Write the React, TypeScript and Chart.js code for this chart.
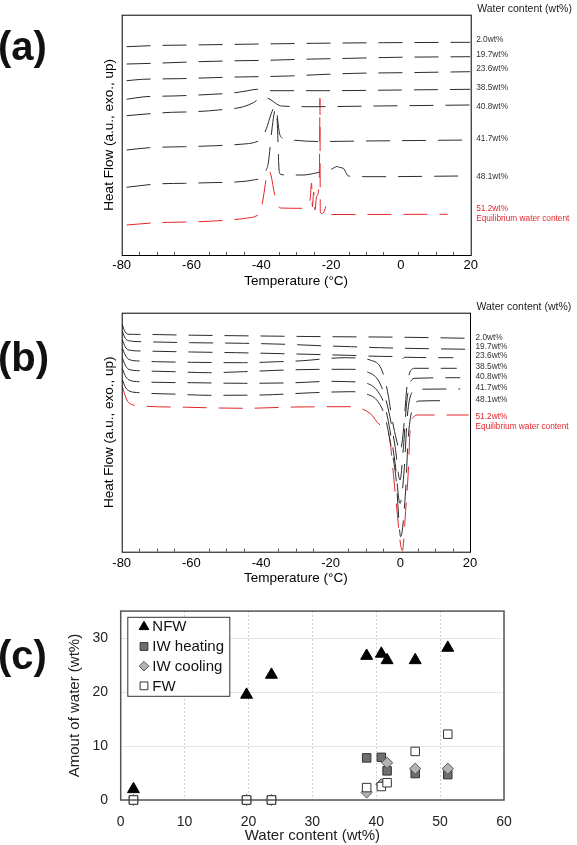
import React, { useEffect, useRef } from 'react';
import { Chart, registerables } from 'chart.js';
Chart.register(...registerables);

const FONT = '"Liberation Sans", Arial, Helvetica, sans-serif';
Chart.defaults.font.family = FONT;
const INK = '#2b2b2b';
const RED = '#e3262b';

// ---------- shared labels ----------
const CONTENT_LABELS = ['2.0wt%', '19.7wt%', '23.6wt%', '38.5wt%', '40.8wt%', '41.7wt%', '48.1wt%', '51.2wt%'];
const HEADER = 'Water content (wt%)';
const EQUIL = 'Equilibrium water content';
const X_TICKS_DSC = [-80, -60, -40, -20, 0, 20];

// ---------- panel (a): cooling DSC, [temperature °C, heat flow a.u.] ----------
const A_2_0 = [[-78.6, 208.3], [-70, 209.5], [-60, 210], [-40, 211], [-25, 211.7], [-5, 212.3], [19.8, 212.7]];
const A_19_7 = [[-78.6, 191], [-70.9, 191.7], [-58, 193.3], [-46.1, 194.3], [-38.5, 194.7], [-28.4, 195.7], [-14.6, 196.7], [-1.2, 197.7], [19.8, 198.3]];
const A_23_6 = [[-78.6, 174.3], [-74, 175.7], [-63.8, 176.3], [-50.4, 177.7], [-41.8, 178.3], [-32.2, 179], [-23.9, 180.3], [-12.9, 181.7], [0.5, 182.3], [19.8, 183.3]];
const A_38_5 = [[-78.6, 155.7], [-73.3, 158.3], [-65.4, 159], [-58, 160], [-47.5, 162.3], [-43.5, 164.5], [-41.3, 165.7], [-39.5, 165], [-37.5, 164.3], [-22.2, 164.3], [-0.2, 165], [19.8, 165.7]];
const A_40_8 = [[-78.6, 139.3], [-73, 141], [-65.7, 142.7], [-59.2, 143.3], [-52.3, 145], [-45.1, 148.3], [-42.3, 152.3], [-39.7, 157.7], [-37.5, 155.7], [-35.6, 151], [-34.2, 149], [-26, 148.3], [-6.9, 149], [19.8, 150]];
const A_41_7 = [[-78.6, 105], [-72, 107.3], [-62, 108.3], [-53, 109.3], [-45, 111], [-42.3, 112.3], [-39.9, 116.7], [-38.5, 126.7], [-37.3, 140], [-36.5, 146.7], [-36.1, 148], [-35.6, 145.5], [-35.3, 135], [-34.8, 122], [-34, 117], [-32, 115.3], [-23.6, 113.5], [-10, 114], [19.8, 115]];
const A_48_1 = [[-78.6, 67.7], [-70, 71], [-62, 71.7], [-55, 72.3], [-46.1, 73.3], [-42.3, 75], [-39.8, 78], [-38.6, 85], [-38, 92], [-37, 124], [-36.4, 140], [-35.9, 146], [-35.5, 138], [-35.2, 112], [-35, 90], [-34.6, 81], [-33, 80], [-28, 80], [-24, 82.3], [-20, 85.7], [-18.2, 88.5], [-17.5, 87.5], [-16.5, 86.7], [-15, 79], [-8, 78.3], [17.2, 79]];
const A_51_2 = [[-78.6, 30], [-70, 32.3], [-58, 33.3], [-49, 35], [-44, 37], [-41.5, 39], [-40.2, 44], [-39.4, 58], [-38.5, 78], [-37.8, 84.3], [-37.1, 78], [-36.6, 68], [-35.6, 53], [-34.5, 47], [-28, 46.7], [-26.6, 50], [-26, 56], [-25.6, 72], [-25.35, 48], [-25, 63], [-24.6, 45], [-24.2, 58], [-23.5, 68], [-23.3, 100], [-23.2, 156.7], [-23.1, 43], [-22.6, 41.5], [-21.9, 44], [-21.5, 48.5], [-21.1, 40.5], [13.4, 40.7]];
const A_CURVES = [A_2_0, A_19_7, A_23_6, A_38_5, A_40_8, A_41_7, A_48_1, A_51_2];
const A_LABEL_Y = [215.7, 200, 186, 167, 148.3, 116, 78.3, 46.7];

// ---------- panel (b): heating DSC ----------
const B_2_0 = [[-79.8, 227], [-79.2, 221], [-78.2, 217.5], [-75, 217.3], [-60, 216.5], [-40, 215.7], [-20, 215], [0, 214.5], [19.8, 213.4]];
const B_19_7 = [[-79.8, 220], [-79, 213.5], [-78, 211], [-74, 210], [-60, 209], [-45, 208.4], [-33, 207.4], [-23, 206], [-14, 205], [-6, 204], [0, 203.5], [8, 203], [19.8, 202.4]];
const B_23_6 = [[-79.8, 211.7], [-79, 205], [-78, 201.7], [-74, 200.7], [-60, 199.7], [-47, 199], [-30, 197.7], [-15, 196.4], [-5, 195.3], [-0.5, 195], [0.4, 192], [1.2, 194.5], [5, 194.2], [15.2, 194]];
const B_38_5 = [[-79.8, 203.4], [-79, 196.7], [-78, 192.4], [-75, 190.7], [-70, 190], [-60, 189.4], [-45, 189], [-35, 190], [-28, 191], [-20, 193.4], [-15.4, 194], [-11.6, 193.4], [-8.7, 191.7], [-5.8, 185], [-4.4, 171.7], [-3.4, 155], [-2.5, 135], [-1.1, 111.7], [-0.1, 100], [0.9, 121.7], [1.8, 161.7], [2.8, 180], [4.2, 183.4], [16.2, 183.4]];
const B_40_8 = [[-79.8, 193.4], [-79, 186.7], [-78, 182.4], [-75, 181], [-65, 180], [-55, 179], [-45, 180], [-33, 181.7], [-20, 182.4], [-14.5, 182.4], [-9.7, 180], [-6.4, 171.7], [-4.4, 155], [-3, 135], [-1.5, 105], [-0.1, 71.7], [0.9, 105], [1.8, 148.4], [2.8, 168.4], [4.2, 173.4], [17.2, 174]];
const B_41_7 = [[-79.8, 183], [-79, 176], [-78, 172], [-75, 170], [-60, 169], [-45, 168.4], [-30, 169], [-20, 170.4], [-14.5, 170], [-9.7, 168.4], [-6.4, 160], [-4.4, 145], [-3, 121.7], [-1.5, 88.4], [-0.1, 48.4], [1.1, 81.7], [2, 135], [3.2, 158.4], [4.7, 162.4], [17.2, 162.7]];
const B_48_1 = [[-79.8, 172], [-79, 165], [-78, 161], [-75, 159], [-65, 157.6], [-55, 156.4], [-40, 156.7], [-25, 159], [-14.5, 160], [-9.7, 157.7], [-6.4, 150], [-4.4, 135], [-3, 111.7], [-1.2, 71.7], [0.1, 15], [1.4, 55], [2.3, 115], [3.7, 145], [5.6, 150.7], [11.9, 151]];
const B_51_2 = [[-79.8, 165], [-79, 156], [-78, 149], [-75, 146], [-62, 144.5], [-45, 143.4], [-30, 144.7], [-15, 145], [-8.7, 138.4], [-5.8, 126.7], [-3.9, 123.4], [-3, 111.7], [-1.5, 60], [0.6, 1], [1.5, 40], [2.3, 81.7], [2.8, 121.7], [3.7, 134.4], [5.2, 136.7], [19.6, 136.7]];
const B_CURVES = [B_2_0, B_19_7, B_23_6, B_38_5, B_40_8, B_41_7, B_48_1, B_51_2];
const B_LABEL_Y = [214.4, 205, 196, 185, 175, 164, 152.4, 135];

// ---------- panel (c): amount of water ----------
const C_WATER = [2.0, 19.7, 23.6, 38.5, 40.8, 41.7, 46.1, 51.2];
const C_NFW = [2.0, 19.5, 23.2, 26.7, 27.1, 25.9, 25.9, 28.2];
const C_IW_HEATING = [0, 0, 0, 7.8, 7.9, 5.4, 4.9, 4.7];
const C_IW_COOLING = [0, 0, 0, 1.4, 2.9, 6.9, 5.8, 5.8];
const C_FW = [0, 0, 0, 2.3, 2.5, 3.2, 9.0, 12.2];
const C_SERIES_NAMES = ['NFW', 'IW heating', 'IW cooling', 'FW'];
const C_X_TICKS = [0, 10, 20, 30, 40, 50, 60];
const C_Y_TICKS = [0, 10, 20, 30];

function dscPlugin(labelY: number[]) {
  return {
    id: 'dscDecor',
    afterDraw(chart: any) {
      const { ctx, chartArea: a, scales } = chart;
      const x = scales.x;
      const y = scales.y;
      ctx.save();
      ctx.strokeStyle = '#000';
      ctx.lineWidth = 1;
      ctx.strokeRect(a.left + 0.5, a.top + 0.5, a.right - a.left, a.bottom - a.top);
      ctx.beginPath();
      for (let t = -75; t < 20; t += 5) {
        if (t % 20 === 0) continue;
        const px = Math.round(x.getPixelForValue(t)) + 0.5;
        ctx.moveTo(px, a.bottom);
        ctx.lineTo(px, a.bottom - 3);
      }
      ctx.strokeStyle = '#555';
      ctx.stroke();
      ctx.textAlign = 'left';
      ctx.textBaseline = 'middle';
      ctx.font = `10.5px ${FONT}`;
      ctx.fillStyle = '#222';
      ctx.fillText(HEADER, a.right + 6.5, a.top - 5.4);
      ctx.font = `8.3px ${FONT}`;
      CONTENT_LABELS.forEach((t, i) => {
        ctx.fillStyle = i === 7 ? RED : '#333';
        ctx.fillText(t, a.right + 5.5, y.getPixelForValue(labelY[i]));
      });
      ctx.fillStyle = RED;
      ctx.fillText(EQUIL, a.right + 5.5, y.getPixelForValue(labelY[7]) + 10.4);
      ctx.restore();
    },
  };
}

function dscConfig(curves: number[][][], labelY: number[], o: any): any {
  const datasets = curves.map((c, i) => ({
    label: CONTENT_LABELS[i],
    data: c.map(([x, y]) => ({ x, y })),
    borderColor: i === 7 ? RED : INK,
    borderWidth: 1,
    borderDash: [24, 12],
    pointRadius: 0,
    cubicInterpolationMode: 'monotone',
    fill: false,
  }));
  return {
    type: 'line',
    data: { datasets },
    options: {
      responsive: false,
      animation: false,
      events: [],
      layout: { padding: { left: 100, right: o.padRight, top: o.padTop, bottom: 0 } },
      plugins: { legend: { display: false }, tooltip: { enabled: false } },
      scales: {
        x: {
          type: 'linear',
          min: -80,
          max: 20,
          afterBuildTicks: (s: any) => { s.ticks = X_TICKS_DSC.map((v) => ({ value: v })); },
          ticks: { font: { size: 13, family: FONT }, color: '#000', padding: o.tickPad, maxRotation: 0, autoSkip: false },
          grid: { display: false, drawTicks: false },
          border: { display: false },
          title: { display: true, text: 'Temperature (°C)', font: { size: 13.5, family: FONT }, color: '#000', padding: { top: 0, bottom: o.titlePadBottom } },
          afterFit: (s: any) => { s.height = o.xHeight; },
        },
        y: {
          type: 'linear',
          min: 0,
          max: o.yMax,
          ticks: { display: false },
          grid: { display: false, drawTicks: false },
          border: { display: false },
          title: { display: true, text: 'Heat Flow (a.u., exo., up)', font: { size: 13.5, family: FONT }, color: '#000', padding: { top: 0.9, bottom: 0 } },
          afterFit: (s: any) => { s.width = 21.7; },
        },
      },
    },
    plugins: [dscPlugin(labelY)],
  };
}

function drawMarker(ctx: CanvasRenderingContext2D, style: string, cx: number, cy: number, r: number, bg: string, border: string) {
  ctx.beginPath();
  if (style === 'triangle') {
    ctx.moveTo(cx, cy - r);
    ctx.lineTo(cx + r * 0.866, cy + r / 2);
    ctx.lineTo(cx - r * 0.866, cy + r / 2);
    ctx.closePath();
  } else if (style === 'rectRot') {
    ctx.moveTo(cx, cy - r);
    ctx.lineTo(cx + r, cy);
    ctx.lineTo(cx, cy + r);
    ctx.lineTo(cx - r, cy);
    ctx.closePath();
  } else {
    const h = r * 0.7071;
    ctx.rect(cx - h, cy - h, 2 * h, 2 * h);
  }
  ctx.fillStyle = bg;
  ctx.fill();
  ctx.lineWidth = 1;
  ctx.strokeStyle = border;
  ctx.stroke();
}

const cPlugin = {
  id: 'cDecor',
  afterDraw(chart: any) {
    const { ctx, chartArea: a } = chart;
    ctx.save();
    ctx.strokeStyle = '#555';
    ctx.lineWidth = 1.5;
    ctx.strokeRect(a.left, a.top, a.right - a.left, a.bottom - a.top);
    const bx = a.left + 6.6;
    const by = a.top + 5.7;
    const bw = 102;
    const bh = 79;
    ctx.fillStyle = '#fff';
    ctx.fillRect(bx, by, bw, bh);
    ctx.lineWidth = 1;
    ctx.strokeStyle = '#333';
    ctx.strokeRect(bx + 0.5, by + 0.5, bw, bh);
    const legendR = [5.6, 5.5, 4.8, 5.5];
    chart.data.datasets.forEach((ds: any, i: number) => {
      const cy = by + 10 + i * 19.7;
      drawMarker(ctx, ds.pointStyle, bx + 16.7, cy, legendR[i], ds.backgroundColor, ds.borderColor);
      ctx.fillStyle = '#111';
      ctx.font = `15px ${FONT}`;
      ctx.textAlign = 'left';
      ctx.textBaseline = 'middle';
      ctx.fillText(ds.label, bx + 25, cy + 0.5);
    });
    ctx.restore();
  },
};

function cConfig(): any {
  const series = [C_NFW, C_IW_HEATING, C_IW_COOLING, C_FW];
  const styles = [
    { pointStyle: 'triangle', radius: 6.9, bg: '#000', border: '#000', order: 0 },
    { pointStyle: 'rect', radius: 6.0, bg: '#6f6f6f', border: '#333', order: 3 },
    { pointStyle: 'rectRot', radius: 5.6, bg: '#b3b3b3', border: '#555', order: 2 },
    { pointStyle: 'rect', radius: 6.0, bg: '#ffffff', border: '#333', order: 1 },
  ];
  const datasets = series.map((vals, i) => ({
    label: C_SERIES_NAMES[i],
    data: vals.map((v, j) => ({ x: C_WATER[j], y: v })),
    pointStyle: styles[i].pointStyle,
    pointRadius: styles[i].radius,
    backgroundColor: styles[i].bg,
    borderColor: styles[i].border,
    borderWidth: 1,
    order: styles[i].order,
    clip: false,
  }));
  return {
    type: 'scatter',
    data: { datasets },
    options: {
      responsive: false,
      animation: false,
      events: [],
      layout: { padding: { left: 60, right: 73, top: 16, bottom: 0 } },
      plugins: { legend: { display: false }, tooltip: { enabled: false } },
      scales: {
        x: {
          type: 'linear',
          min: 0,
          max: 60,
          afterBuildTicks: (s: any) => { s.ticks = C_X_TICKS.map((v) => ({ value: v })); },
          ticks: { font: { size: 14, family: FONT }, color: '#222', padding: 13.3, maxRotation: 0, autoSkip: false },
          grid: { display: true, drawTicks: false, color: '#c4c4c4', lineWidth: 1 },
          border: { display: false, dash: [1.5, 2.5] },
          title: { display: true, text: 'Water content (wt%)', font: { size: 15, family: FONT }, color: '#222', padding: { top: 0, bottom: 0 } },
          afterFit: (s: any) => { s.height = 45; },
        },
        y: {
          type: 'linear',
          min: 0,
          max: 35,
          afterBuildTicks: (s: any) => { s.ticks = C_Y_TICKS.map((v) => ({ value: v })); },
          ticks: { font: { size: 14, family: FONT }, color: '#222', padding: 12.7 },
          grid: { display: true, drawTicks: false, color: '#e6e6e6', lineWidth: 1 },
          border: { display: false },
          title: { display: true, text: 'Amout of water (wt%)', font: { size: 15, family: FONT }, color: '#222', padding: { top: 6, bottom: 0 } },
          afterFit: (s: any) => { s.width = 60.7; },
        },
      },
    },
    plugins: [cPlugin],
  };
}

function ChartCanvas({ top, height, make }: { top: number; height: number; make: () => any }) {
  const ref = useRef<HTMLCanvasElement>(null);
  useEffect(() => {
    const chart = new Chart(ref.current as HTMLCanvasElement, make());
    return () => chart.destroy();
  }, []);
  return (
    <canvas
      ref={ref}
      width={577}
      height={height}
      style={{ position: 'absolute', left: 0, top, width: 577, height, display: 'block' }}
    />
  );
}

const panelLabel = (text: string, top: number) => (
  <div
    style={{
      position: 'absolute',
      left: -2,
      top,
      font: `bold 40px ${FONT}`,
      lineHeight: '40px',
      color: '#111',
      zIndex: 2,
    }}
  >
    {text}
  </div>
);

export default function App() {
  return (
    <div style={{ position: 'absolute', left: 0, top: 0, width: 577, height: 845, background: '#fff', overflow: 'hidden' }}>
      <ChartCanvas
        top={0}
        height={290}
        make={() => dscConfig(A_CURVES, A_LABEL_Y, { padRight: 106.3, padTop: 14.7, xHeight: 35, tickPad: 3, titlePadBottom: 1, yMax: 240.3 })}
      />
      <ChartCanvas
        top={290}
        height={300}
        make={() => dscConfig(B_CURVES, B_LABEL_Y, { padRight: 107, padTop: 22.7, xHeight: 38.3, tickPad: 3.5, titlePadBottom: 3.9, yMax: 239 })}
      />
      <ChartCanvas top={590} height={255} make={cConfig} />
      {panelLabel('(a)', 25.7)}
      {panelLabel('(b)', 337)}
      {panelLabel('(c)', 635)}
    </div>
  );
}
